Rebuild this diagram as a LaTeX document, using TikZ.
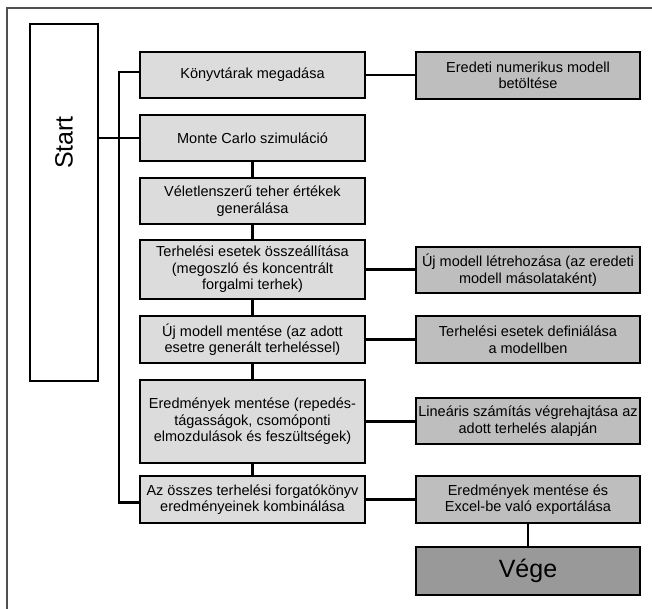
\documentclass[tikz,border=0pt]{standalone}
\usepackage{fontspec}
\setmainfont{Liberation Sans}
\definecolor{midgray}{HTML}{DCDCDC}
\definecolor{rightgray}{HTML}{BEBEBE}
\definecolor{endgray}{HTML}{999999}
\definecolor{framegray}{HTML}{505050}
\tikzset{
  box/.style={draw=black, line width=2.3pt, align=center, inner sep=0pt,
    font=\fontsize{14.5}{16.5}\selectfont},
  midbox/.style={box, fill=midgray, minimum width=225pt},
  rightbox/.style={box, fill=rightgray, minimum width=224pt},
  link/.style={draw=black, line width=2.1pt},
}
\begin{document}
\begin{tikzpicture}[x=1pt,y=-1pt]
\useasboundingbox (0,0) rectangle (652,609);
% outer frame (extends beyond the picture on the right and bottom)
\draw[framegray, line width=1.8pt] (7,609) -- (7,8) -- (652,8);

% Start
\node[box, fill=white, minimum width=68pt, minimum height=357pt,
  label={[yshift=60pt, font=\fontsize{25}{30}\selectfont]center:\rotatebox{90}{Start}}]
  (start) at (64,202.5) {};

% middle column
\node[midbox, minimum height=46pt] (kony) at (252.5,75) {Könyvtárak megadása};
\node[midbox, minimum height=46pt] (mc) at (252.5,138) {Monte Carlo szimuláció};
\node[midbox, minimum height=46pt] (vel) at (252.5,201) {Véletlenszerű teher értékek\\generálása};
\node[midbox, minimum height=59pt] (terh) at (252.5,269.5) {Terhelési esetek összeállítása\\(megoszló és koncentrált\\forgalmi terhek)};
\node[midbox, minimum height=47pt] (uj) at (252.5,339.5) {Új modell mentése (az adott\\esetre generált terheléssel)};
\node[midbox, minimum height=83pt] (ered) at (252.5,421.5) {Eredmények mentése (repedés-\\tágasságok, csomóponti\\elmozdulások és feszültségek)};
\node[midbox, minimum height=47pt] (az) at (252.5,499.5) {Az összes terhelési forgatókönyv\\eredményeinek kombinálása};

% right column
\node[rightbox, minimum height=47pt] (eredeti) at (528,75.5) {Eredeti numerikus modell\\betöltése};
\node[rightbox, minimum height=46pt] (ujletre) at (528,270) {Új modell létrehozása (az eredeti\\modell másolataként)};
\node[rightbox, minimum height=47pt] (def) at (528,339.5) {Terhelési esetek definiálása\\a modellben};
\node[rightbox, minimum height=46pt] (lin) at (528,421) {Lineáris számítás végrehajtása az\\adott terhelés alapján};
\node[rightbox, minimum height=47pt] (excel) at (528,499.5) {Eredmények mentése és\\Excel-be való exportálása};
\node[box, fill=endgray, minimum width=224pt, minimum height=48pt,
  font=\fontsize{25}{30}\selectfont] (vege) at (528,571) {Vége};

% spine on the left
\draw[link] ([yshift=3pt]kony.west) -- ++(-20,0) |- ([yshift=-3pt]az.west);
\draw[link] (start.east |- mc) -- (mc.west);

% middle column chain
\draw[link] (mc) -- (vel);
\draw[link] (vel) -- (terh);
\draw[link] (terh) -- (uj);
\draw[link] (uj) -- (ered);
\draw[link] (ered) -- (az);

% middle to right
\draw[link] (kony.east) -- (eredeti.west |- kony.east);
\draw[link] (terh.east) -- (ujletre.west |- terh.east);
\draw[link] (uj.east) -- (def.west);
\draw[link] (ered.east) -- (lin.west |- ered.east);
\draw[link] (az.east) -- (excel.west);
\draw[link] (excel) -- (vege);
\end{tikzpicture}
\end{document}
